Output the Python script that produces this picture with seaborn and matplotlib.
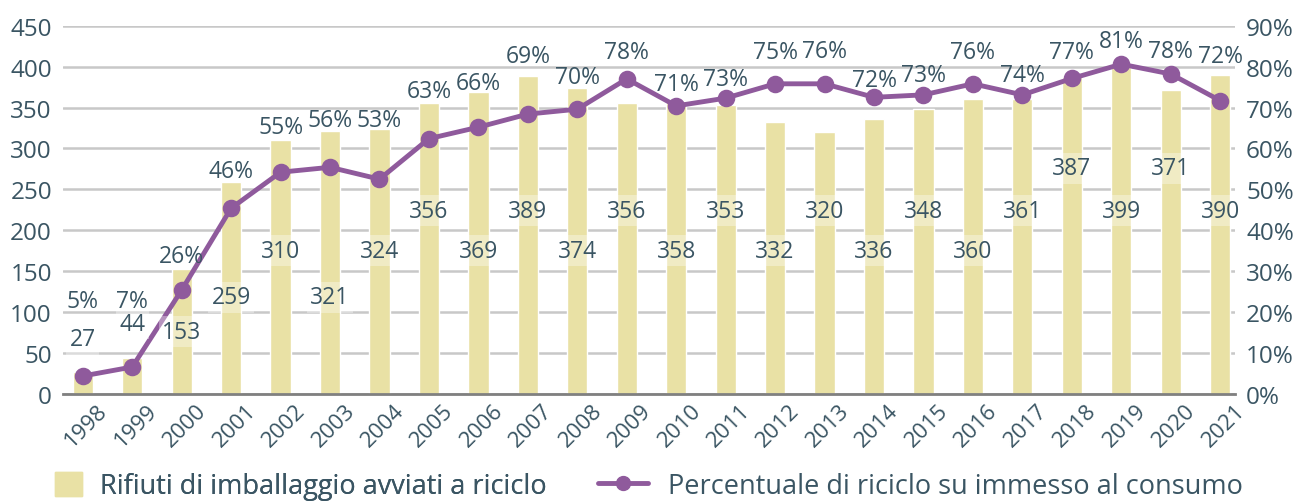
import matplotlib
matplotlib.use("Agg")
import matplotlib.pyplot as plt
import matplotlib.transforms as mtrans
from matplotlib.patches import Patch
from matplotlib.lines import Line2D
import pandas as pd
import seaborn as sns

years = ["1998", "1999", "2000", "2001", "2002", "2003", "2004", "2005",
         "2006", "2007", "2008", "2009", "2010", "2011", "2012", "2013",
         "2014", "2015", "2016", "2017", "2018", "2019", "2020", "2021"]
# rifiuti avviati a riciclo (kt)
tonnes = [27, 44, 153, 259, 310, 321, 324, 356, 369, 389, 374, 356,
          358, 353, 332, 320, 336, 348, 360, 361, 387, 399, 371, 390]
# percentuale di riciclo
pct = [4.4, 6.6, 25.4, 45.4, 54.2, 55.4, 52.5, 62.4, 65.2, 68.4, 69.6, 77.0,
       70.4, 72.3, 75.8, 75.8, 72.5, 73.1, 75.8, 73.1, 77.1, 80.6, 78.2, 71.7]
pct_labels = [5, 7, 26, 46, 55, 56, 53, 63, 66, 69, 70, 78,
              71, 73, 75, 76, 72, 73, 76, 74, 77, 81, 78, 72]

# where the labels sit, in left-axis units
bar_label_y = [67, 86, 76, 118, 175, 118, 175, 224, 175, 224, 175, 224,
               175, 224, 175, 224, 175, 224, 175, 224, 276, 224, 276, 224]
pct_label_y = [114, 114, 169, 272, 326, 335, 335, 370, 380, 413, 387, 418,
               379, 385, 418, 419, 384, 390, 418, 390, 418, 431, 419, 413]

df = pd.DataFrame({"anno": years, "t": tonnes, "p": pct})

sns.set_style("white")
plt.rcParams["font.family"] = ["Open Sans", "DejaVu Sans"]
txt = "#3a5563"
bar_c = "#e9e1a5"
line_c = "#8f5a9c"

fig = plt.figure(figsize=(13.01, 5.02), dpi=100)
ax = fig.add_axes([63 / 1301, 1 - 395 / 502, (1235 - 63) / 1301, (395 - 26.7) / 502])
ax2 = ax.twinx()

sns.barplot(data=df, x="anno", y="t", color=bar_c, width=0.41,
            saturation=1, ax=ax, zorder=2)
sns.pointplot(data=df, x="anno", y="p", color=line_c, markers="o",
              markersize=10, linewidth=3.5, ax=ax2)

ax.set_ylim(0, 450)
ax2.set_ylim(0, 90)
ax.set_xlim(-0.4, 23.3)
ax.set_yticks(range(0, 451, 50))
ax2.set_yticks(range(0, 91, 10))
ax2.set_yticklabels([f"{v}%" for v in range(0, 91, 10)])
ax.yaxis.grid(True, color="#c8c8c8", lw=1.8, zorder=0)
ax.set_axisbelow(True)
for a in (ax, ax2):
    a.set_xlabel("")
    a.set_ylabel("")
    for s in a.spines.values():
        s.set_visible(False)
    a.tick_params(length=0, labelsize=17.5, labelcolor=txt)
ax.spines["bottom"].set_visible(True)
ax.spines["bottom"].set_color("#808080")
ax.spines["bottom"].set_linewidth(2)
ax.tick_params(axis="y", pad=8)
ax2.tick_params(axis="y", pad=8)

ax.set_xticks(range(len(years)))
ax.set_xticklabels(years, rotation=45, ha="right", rotation_mode="anchor",
                   fontsize=16)
ax.tick_params(axis="x", pad=4)
off = mtrans.ScaledTranslation(14 / 100, 0, fig.dpi_scale_trans)
for lab in ax.get_xticklabels():
    lab.set_transform(lab.get_transform() + off)

for i in range(len(years)):
    ax2.text(i, bar_label_y[i], str(tonnes[i]), transform=ax.transData,
             ha="center", va="center", fontsize=16.5, color=txt, zorder=5,
             bbox=dict(boxstyle="square,pad=0.15", fc="white", ec="none", alpha=0.35))
    ax2.text(i, pct_label_y[i], f"{pct_labels[i]}%", transform=ax.transData,
             ha="center", va="center", fontsize=16.5, color=txt, zorder=5)

leg1 = fig.legend(handles=[Patch(color=bar_c)],
                  labels=["Rifiuti di imballaggio avviati a riciclo"],
                  loc="center left", bbox_to_anchor=(55 / 1301, 0.03),
                  frameon=False, fontsize=19.5, handlelength=1, handleheight=1,
                  handletextpad=0.65, borderpad=0, borderaxespad=0, labelcolor=txt)
fig.add_artist(leg1)
fig.legend(handles=[Line2D([], [], color=line_c, lw=3.5, marker="o", markersize=10)],
           labels=["Percentuale di riciclo su immesso al consumo"],
           loc="center left", bbox_to_anchor=(598 / 1301, 0.03),
           frameon=False, fontsize=19.5, handlelength=1.85, handletextpad=0.75,
           borderpad=0, borderaxespad=0, labelcolor=txt)

fig.savefig("out.png", dpi=100)
